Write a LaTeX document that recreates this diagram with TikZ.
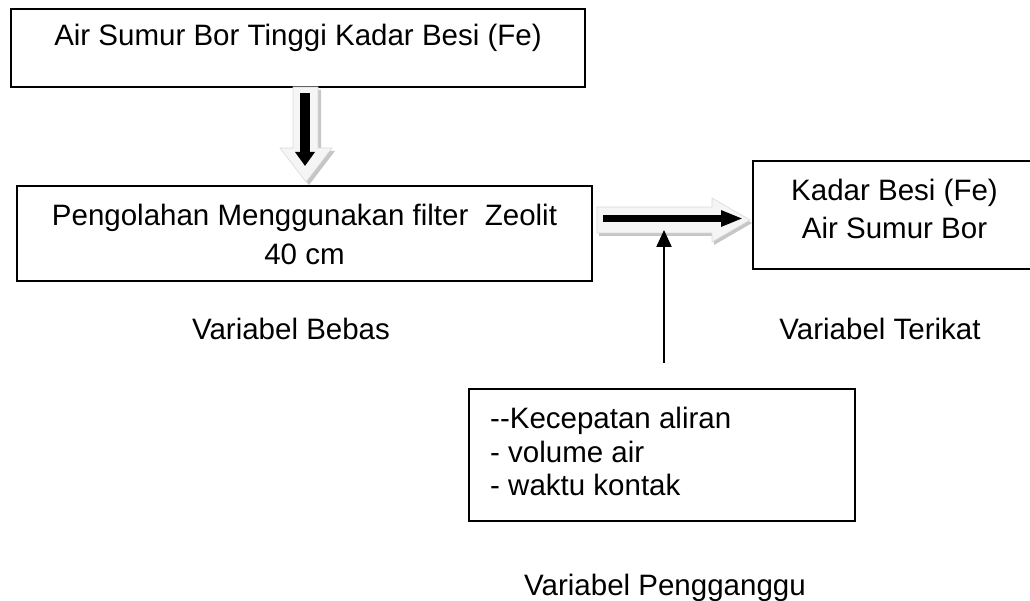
\documentclass[tikz,border=0pt]{standalone}
\usepackage{fontspec}
\setmainfont{Liberation Sans}
\usetikzlibrary{arrows.meta}
\begin{document}
\begin{tikzpicture}[x=1pt,y=-1pt,
  frame/.style={draw,line width=2.2pt,inner sep=0pt},
  txt/.style={inner sep=0pt,anchor=base,font=\fontsize{29.5}{39}\selectfont},
  blockfill/.style={fill=gray!8,draw=gray!30,line width=0.6pt},
  blockshadow/.style={fill=gray!45,draw=none},
  blackarrow/.style={line width=#1,draw=black}
]
\useasboundingbox (0,0) rectangle (1030,601);

% frames
\node[frame,minimum width=574pt,minimum height=78pt] (b1) at (298,48) {};
\node[frame,minimum width=575pt,minimum height=95pt] (b2) at (304.5,233.5) {};
\node[frame,minimum width=300pt,minimum height=108pt] (b3) at (903,215) {};
\node[frame,minimum width=386pt,minimum height=132pt] (b4) at (662,455) {};

% texts
\node[txt] (t1) at (298,46) {Air Sumur Bor Tinggi Kadar Besi (Fe)};
\node[txt] (t2a) at (304.5,226) {Pengolahan Menggunakan filter\ \ Zeolit};
\node[txt] (t2b) at (304.5,265) {40 cm};
\node[txt] (t3a) at (894.5,201) {Kadar Besi (Fe)};
\node[txt] (t3b) at (894.5,239) {Air Sumur Bor};
\node[txt,anchor=base west] (t4a) at (490,428) {-{}-Kecepatan aliran};
\node[txt,anchor=base west] (t4b) at (490,462) {- volume air};
\node[txt,anchor=base west] (t4c) at (490,495) {- waktu kontak};
\node[txt] (l1) at (291,340) {Variabel Bebas};
\node[txt] (l2) at (880,340) {Variabel Terikat};
\node[txt] (l3) at (665,595) {Variabel Pengganggu};

% down block arrow (b1 -> b2)
\begin{scope}[shift={(3,3)}]
  \fill[blockshadow] (293,87) -- (318,87) -- (318,148) -- (332,148) -- (306,182) -- (280,148) -- (293,148) -- cycle;
\end{scope}
\filldraw[blockfill] (293,87) -- (318,87) -- (318,148) -- (332,148) -- (306,182) -- (280,148) -- (293,148) -- cycle;
\coordinate (d0) at (305,93);
\coordinate (d1) at (305,166);
\draw[blackarrow=10pt,-{Triangle[length=14pt,width=19pt]}] (d0) -- (d1);

% right block arrow (b2 -> b3)
\begin{scope}[shift={(2,3)}]
  \fill[blockshadow] (597,207) -- (712,207) -- (712,198) -- (750,220) -- (712,242) -- (712,233) -- (597,233) -- cycle;
\end{scope}
\filldraw[blockfill] (597,207) -- (712,207) -- (712,198) -- (750,220) -- (712,242) -- (712,233) -- (597,233) -- cycle;
\coordinate (r0) at (603,218.5);
\coordinate (r1) at (743,218.5);
\draw[blackarrow=7pt,-{Triangle[length=22pt,width=15pt]}] (r0) -- (r1);

% thin arrow from disturbing variables
\coordinate (v0) at (664,363);
\coordinate (v1) at (664,230);
\draw[blackarrow=2.2pt,-{Triangle[length=17pt,width=15pt]}] (v0) -- (v1);
\end{tikzpicture}
\end{document}
